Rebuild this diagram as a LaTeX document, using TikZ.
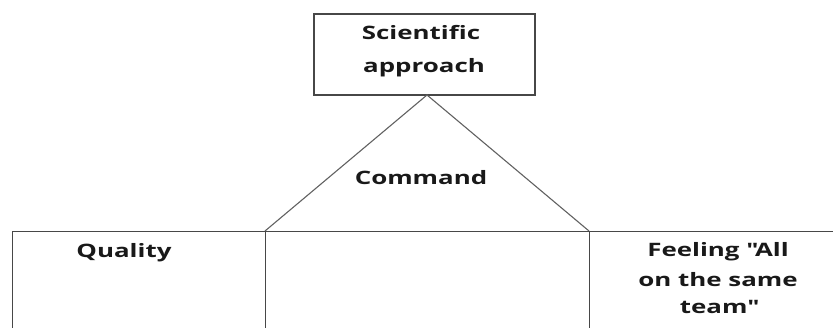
\documentclass[tikz,border=0pt]{standalone}
\usepackage{fontspec}
\setmainfont[FakeStretch=1.4]{Open Sans}
\begin{document}
\begin{tikzpicture}[x=1pt,y=-1pt,
  frame/.style={draw=black!72,line width=1.3pt},
  thin/.style={draw=black!62,line width=1.1pt},
  lbl/.style={inner sep=0pt,anchor=base,font=\fontsize{18.5}{22}\selectfont\bfseries,text=black!90}]
\useasboundingbox (0,0) rectangle (833,327);
\clip (0,0) rectangle (833,327);
% top box
\node[frame,minimum width=221pt,minimum height=81pt,inner sep=0pt] (top) at (424.5,54.5) {};
\node[lbl] (t1) at (421,39) {Scientific};
\node[lbl] (t2) at (424,72) {approach};
% triangle
\coordinate (apex) at (427,95);
\coordinate (bl) at (265,231);
\coordinate (br) at (589,231);
\draw[thin] (bl) -- (apex) -- (br);
\node[lbl] (cmd) at (421,184) {Command};
% bottom boxes
\node[frame,minimum width=253pt,minimum height=140pt,inner sep=0pt,anchor=north west] (qbox) at (12,231) {};
\node[frame,minimum width=324pt,minimum height=140pt,inner sep=0pt,anchor=north west] (mbox) at (265,231) {};
\node[frame,minimum width=270pt,minimum height=140pt,inner sep=0pt,anchor=north west] (fbox) at (589,231) {};
\node[lbl] (q) at (124,257) {Quality};
\node[lbl] (f1) at (718,256) {Feeling \textquotedbl All};
\node[lbl] (f2) at (718,286) {on the same};
\node[lbl] (f3) at (718,313) {team\textquotedbl};
\end{tikzpicture}
\end{document}
